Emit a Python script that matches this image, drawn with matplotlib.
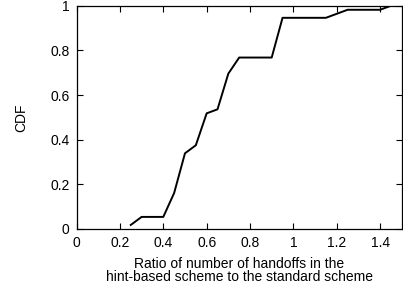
import matplotlib
matplotlib.use("Agg")
import matplotlib.pyplot as plt

ratio = [0.25, 0.30, 0.40, 0.45, 0.50, 0.55, 0.60, 0.65, 0.70, 0.75,
         0.90, 0.95, 1.15, 1.25, 1.40, 1.45]
cdf = [0.018, 0.054, 0.054, 0.161, 0.339, 0.375, 0.518, 0.536, 0.696,
       0.768, 0.768, 0.946, 0.946, 0.982, 0.982, 1.0]
xticks = [0, 0.2, 0.4, 0.6, 0.8, 1, 1.2, 1.4]
yticks = [0, 0.2, 0.4, 0.6, 0.8, 1]

plt.rcParams['font.family'] = ['Liberation Sans', 'DejaVu Sans']
plt.rcParams['font.size'] = 10

fig = plt.figure(figsize=(4.03, 2.88), dpi=100)
ax = fig.add_axes([0.19, 0.205, 0.807, 0.775])

ax.plot(ratio, cdf, color='black', linewidth=1.4)

ax.set_xlim(0, 1.5)
ax.set_ylim(0, 1)
ax.set_xticks(xticks)
ax.set_xticklabels([str(t) for t in xticks])
ax.set_yticks(yticks)
ax.set_yticklabels([str(t) for t in yticks])
ax.tick_params(direction='in', top=True, right=True, length=4, width=0.8)
ax.tick_params(axis='x', pad=5)
ax.tick_params(axis='y', pad=5)
for s in ax.spines.values():
    s.set_linewidth(0.9)

ax.set_xlabel("Ratio of number of handoffs in the\nhint-based scheme to the standard scheme",
              linespacing=0.92, labelpad=5)
ax.set_ylabel("CDF", labelpad=16)

fig.savefig("out.png", dpi=100)
